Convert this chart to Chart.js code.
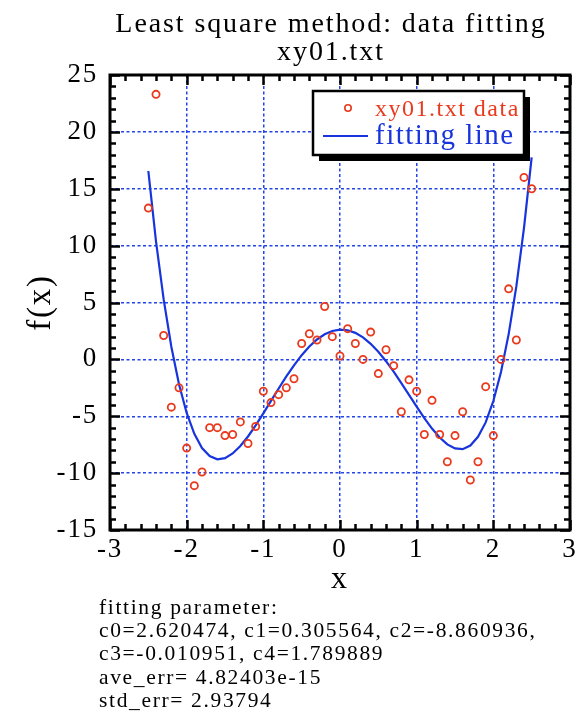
<!DOCTYPE html>
<html><head><meta charset="utf-8">
<script src="https://cdn.jsdelivr.net/npm/chart.js@4/dist/chart.umd.min.js"></script>
<style>
html,body{margin:0;padding:0;background:#fff;}
#wrap{position:relative;width:583px;height:715px;overflow:hidden;}
#c{position:absolute;left:0;top:0;}
#params{position:absolute;left:99px;top:596px;font-family:"Liberation Serif","Times New Roman",serif;font-size:21.5px;line-height:23.2px;letter-spacing:1.65px;color:#000;white-space:pre;}
</style></head><body>
<div id="wrap"><canvas id="c" width="583" height="715"></canvas><div id="params"></div></div>
<script>
const titleLines = ['Least square method: data fitting', 'xy01.txt'];
const xValues = [-2.5,-2.4,-2.3,-2.2,-2.1,-2.0,-1.9,-1.8,-1.7,-1.6,-1.5,-1.4,-1.3,-1.2,-1.1,-1.0,-0.9,-0.8,-0.7,-0.6,-0.5,-0.4,-0.3,-0.2,-0.1,0.0,0.1,0.2,0.3,0.4,0.5,0.6,0.7,0.8,0.9,1.0,1.1,1.2,1.3,1.4,1.5,1.6,1.7,1.8,1.9,2.0,2.1,2.2,2.3,2.4,2.5];
const dataValues = [13.3,23.3,2.1,-4.2,-2.5,-7.8,-11.1,-9.9,-6.0,-6.0,-6.7,-6.6,-5.5,-7.4,-5.9,-2.8,-3.8,-3.1,-2.5,-1.7,1.4,2.25,1.7,4.65,2.0,0.3,2.7,1.4,0.0,2.4,-1.25,0.85,-0.55,-4.6,-1.8,-2.8,-6.6,-3.6,-6.6,-9.0,-6.7,-4.6,-10.6,-9.0,-2.4,-6.7,0.0,6.2,1.7,16.0,15.0];
const fitValues = [16.56,10.38,5.27,1.11,-2.19,-4.71,-6.55,-7.79,-8.50,-8.78,-8.68,-8.27,-7.62,-6.78,-5.80,-4.75,-3.65,-2.56,-1.50,-0.52,0.37,1.13,1.75,2.21,2.50,2.62,2.56,2.33,1.93,1.37,0.67,-0.16,-1.08,-2.08,-3.12,-4.16,-5.16,-6.08,-6.87,-7.47,-7.83,-7.89,-7.57,-6.81,-5.54,-3.66,-1.11,2.22,6.41,11.55,17.75];
const xTickValues = [-3,-2,-1,0,1,2,3];
const yTickValues = [-15,-10,-5,0,5,10,15,20,25];
const legendLabels = ['xy01.txt data', 'fitting line'];
const paramLines = ['fitting parameter:', 'c0=2.620474, c1=0.305564, c2=-8.860936,', 'c3=-0.010951, c4=1.789889', 'ave_err= 4.82403e-15', 'std_err= 2.93794'];

document.getElementById('params').textContent = paramLines.join('\n');

const RED = '#ea3a1e', BLUE = '#1834dc', GRID = '#2244e8';
const SERIF = "'Liberation Serif','Times New Roman',serif";
const LS = '1.8px';

const decor = {
  id: 'decor',
  beforeLayout(chart){ chart.ctx.letterSpacing = LS; },
  beforeDraw(chart){ chart.ctx.letterSpacing = LS; },
  afterDatasetsDraw(chart){
    const ctx = chart.ctx, a = chart.chartArea;
    const xs = chart.scales.x, ys = chart.scales.y;
    ctx.save();
    ctx.strokeStyle = '#000';
    ctx.lineWidth = 2.5;
    ctx.lineCap = 'butt';
    for (let v = ys.min; v <= ys.max + 1e-9; v += 1) {
      const py = Math.round(ys.getPixelForValue(v)) + 0.5;
      const major = Math.abs(v % 5) < 1e-9;
      const len = major ? 10 : 6;
      ctx.beginPath();
      ctx.moveTo(a.left, py); ctx.lineTo(a.left + len, py);
      ctx.moveTo(a.right, py); ctx.lineTo(a.right - len, py);
      ctx.stroke();
    }
    for (let i = 0; i <= 30; i++) {
      const v = xs.min + i * 0.2;
      const px = Math.round(xs.getPixelForValue(v)) + 0.5;
      const major = i % 5 === 0;
      const len = major ? 10 : 6;
      ctx.beginPath();
      ctx.moveTo(px, a.bottom); ctx.lineTo(px, a.bottom - len);
      ctx.moveTo(px, a.top); ctx.lineTo(px, a.top + len);
      ctx.stroke();
    }
    ctx.lineWidth = 3;
    ctx.strokeRect(a.left, a.top, a.right - a.left, a.bottom - a.top);
    ctx.restore();
  },
  afterDraw(chart){
    const ctx = chart.ctx;
    ctx.save();
    // title
    ctx.letterSpacing = '1.9px';
    ctx.fillStyle = '#000';
    ctx.font = '28px ' + SERIF;
    ctx.textAlign = 'center'; ctx.textBaseline = 'alphabetic';
    ctx.fillText(titleLines[0], 331, 32);
    ctx.fillText(titleLines[1], 331, 60);
    // legend
    const bx = 313, by = 91, bw = 211, bh = 64;
    ctx.fillStyle = '#000';
    ctx.fillRect(bx + 6, by + 6, bw, bh);
    ctx.fillStyle = '#fff';
    ctx.fillRect(bx, by, bw, bh);
    ctx.lineWidth = 2.5;
    ctx.strokeStyle = '#000';
    ctx.strokeRect(bx, by, bw, bh);
    ctx.strokeStyle = RED; ctx.lineWidth = 1.6;
    ctx.beginPath(); ctx.arc(348, 108, 3.2, 0, Math.PI * 2); ctx.stroke();
    ctx.strokeStyle = BLUE; ctx.lineWidth = 2;
    ctx.beginPath(); ctx.moveTo(323, 136); ctx.lineTo(368, 136); ctx.stroke();
    ctx.letterSpacing = '1.5px';
    ctx.textAlign = 'left'; ctx.textBaseline = 'alphabetic';
    ctx.fillStyle = RED; ctx.font = '24px ' + SERIF;
    ctx.fillText(legendLabels[0], 375, 116);
    ctx.fillStyle = BLUE; ctx.font = '29px ' + SERIF;
    ctx.fillText(legendLabels[1], 375, 144);
    ctx.restore();
  }
};

new Chart(document.getElementById('c'), {
  type: 'scatter',
  data: {
    datasets: [
      {
        label: legendLabels[0],
        data: xValues.map((x, i) => ({x, y: dataValues[i]})),
        showLine: false,
        pointStyle: 'circle',
        pointRadius: 3.6,
        pointBorderWidth: 1.8,
        borderColor: RED,
        backgroundColor: 'rgba(0,0,0,0)',
        pointHoverRadius: 3.6
      },
      {
        label: legendLabels[1],
        data: xValues.map((x, i) => ({x, y: fitValues[i]})),
        showLine: true,
        pointRadius: 0,
        borderColor: BLUE,
        borderWidth: 2.2,
        tension: 0,
        fill: false
      }
    ]
  },
  options: {
    responsive: false,
    animation: false,
    devicePixelRatio: 1,
    layout: { padding: { left: 0, right: 13, top: 75, bottom: 116 } },
    plugins: {
      legend: { display: false },
      tooltip: { enabled: false },
      title: { display: false }
    },
    scales: {
      x: {
        type: 'linear',
        min: -3, max: 3,
        afterBuildTicks: s => { s.ticks = xTickValues.map(v => ({value: v})); },
        afterFit: s => { s.height = 69; },
        grid: { color: GRID, lineWidth: 1.5, drawTicks: false },
        border: { display: false, dash: [3, 2.5] },
        ticks: { color: '#000', font: { family: SERIF, size: 27 }, padding: 4, maxRotation: 0, autoSkip: false },
        title: { display: true, text: 'x', color: '#000', font: { family: SERIF, size: 32, lineHeight: 1.2 }, padding: { top: 0, bottom: 0 } }
      },
      y: {
        type: 'linear',
        min: -15, max: 25,
        afterBuildTicks: s => { s.ticks = yTickValues.map(v => ({value: v})); },
        afterFit: s => { s.width = 110; },
        grid: { color: GRID, lineWidth: 1.5, drawTicks: false },
        border: { display: false, dash: [3, 2.5] },
        ticks: { color: '#000', font: { family: SERIF, size: 27 }, padding: 12, autoSkip: false },
        title: { display: true, text: 'f(x)', color: '#000', font: { family: SERIF, size: 33, lineHeight: 1.2 }, padding: { top: 22, bottom: 0 } }
      }
    }
  },
  plugins: [decor]
});
</script>
</body></html>
